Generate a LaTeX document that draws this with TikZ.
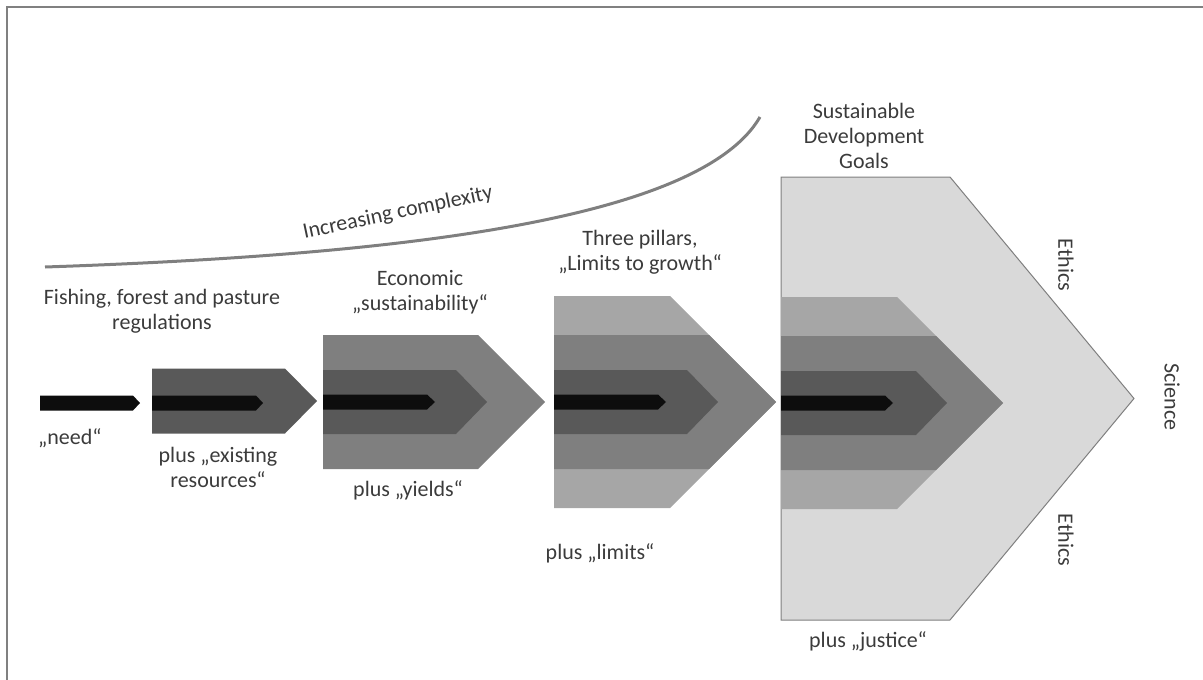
\documentclass[tikz,border=0pt]{standalone}
\usepackage{fontspec}
\setmainfont{Carlito}
\definecolor{PhFrame}{HTML}{808080}
\definecolor{PhBlack}{HTML}{0D0D0D}
\definecolor{PhDark}{HTML}{595959}
\definecolor{PhMid}{HTML}{7F7F7F}
\definecolor{PhLight}{HTML}{A6A6A6}
\definecolor{PhPale}{HTML}{D9D9D9}
\definecolor{PhText}{HTML}{3B3B3B}

% one pointed band: left x, centre y, half height, end of flat part, tip (both relative to left x)
\newcommand{\band}[6]{%
  \path[#6] (#1,#2-#3) -- (#1+#4,#2-#3) -- (#1+#5,#2) -- (#1+#4,#2+#3) -- (#1,#2+#3) -- cycle;}

\begin{document}
\begin{tikzpicture}[x=1pt,y=-1pt,
    lbl/.style={text=PhText,font=\fontsize{22}{25}\selectfont,align=center,inner sep=0pt},
    side/.style={lbl,rotate=-90}]
  \useasboundingbox (0,0) rectangle (1203,680);
  \draw[PhFrame,line width=2pt] (7,7) rectangle (1215,700);

  % complexity curve
  \draw[PhMid,line width=3pt] (45,267) .. controls (400,255) and (700,220) .. (760,117);
  \node[lbl,rotate=12] (complexity) at (398,213) {Increasing complexity};

  % stage 0
  \band{40}{403}{7.5}{93}{100}{fill=PhBlack}
  \node[lbl,anchor=west] (need) at (38,438) {„need“};
  \node[lbl] (fishing) at (162,311) {Fishing, forest and pasture\\regulations};

  % stage 1
  \band{152}{401}{32.5}{133}{165}{fill=PhDark}
  \band{152}{403}{7.5}{104}{111}{fill=PhBlack}
  \node[lbl] (existing) at (218,467) {plus „existing\\resources“};

  % stage 2
  \foreach \h/\f/\t/\c in {67/155/222/PhMid,32/133/164/PhDark,7.5/104/112/PhBlack}
    \band{323}{402}{\h}{\f}{\t}{fill=\c};
  \node[lbl] (economic) at (420,292) {Economic\\„sustainability“};
  \node[lbl] (yields) at (408,490) {plus „yields“};

  % stage 3
  \foreach \h/\f/\t/\c in {106/116/222/PhLight,67/155/222/PhMid,32/133/164/PhDark,7.5/104/112/PhBlack}
    \band{554}{402}{\h}{\f}{\t}{fill=\c};
  \node[lbl] (pillars) at (640,252) {Three pillars,\\„Limits to growth“};
  \node[lbl] (limits) at (600,553) {plus „limits“};

  % stage 4
  \band{781}{398.5}{221.5}{169}{353}{fill=PhPale,draw=PhMid,line width=1pt}
  \foreach \h/\f/\t/\c in {106/116/222/PhLight,67/155/222/PhMid,32/135/166/PhDark,7.5/104/112/PhBlack}
    \band{781}{403}{\h}{\f}{\t}{fill=\c};
  \node[lbl] (sdg) at (864,136) {Sustainable\\Development\\Goals};
  \node[lbl] (justice) at (868,641) {plus „justice“};
  \node[side] (ethicsup) at (1066,265) {Ethics};
  \node[side] (ethicsdown) at (1066,540) {Ethics};
  \node[side] (science) at (1172,397) {Science};
\end{tikzpicture}
\end{document}
